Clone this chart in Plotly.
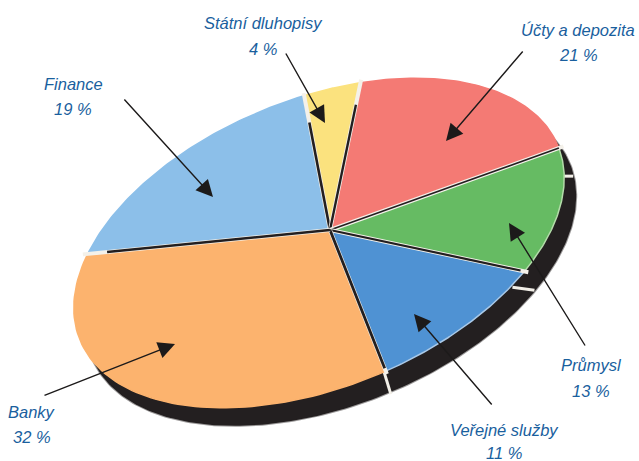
import numpy as np
import plotly.graph_objects as go

# ---- data (clockwise from the top) ----
sectors = ["Státní dluhopisy", "Účty a depozita", "Průmysl", "Veřejné služby", "Banky", "Finance"]
shares = [4, 21, 13, 11, 32, 19]
colors = ["#fbe27e", "#f47a74", "#66bb63", "#4f92d3", "#fcb36e", "#8cbfe9"]
rim_colors = ["#fbe27e", "#f47a74", "#b4dcaa", "#a9c9e8", "#fcb36e", "#8cbfe9"]

# ---- tilted disc projection ----
CX, CY, A, B, ROT = 319, 243, 258, 144, np.radians(-22)
APEX = (330, 230)
T0, WARP, WARP_AT = -85.0, 6.0, 230.0
SHADOW = (12, 18)
W, H = 639, 461


def warp(t):
    return t + WARP * np.cos(np.radians(t - WARP_AT))


def rim(t):
    r = np.radians(warp(np.asarray(t, dtype=float)))
    u, v = A * np.cos(r), B * np.sin(r)
    return CX + u * np.cos(ROT) - v * np.sin(ROT), CY + u * np.sin(ROT) + v * np.cos(ROT)


bounds = T0 + np.concatenate([[0], np.cumsum(shares)]) * 3.6
fig = go.Figure()

# extruded side of the disc
tt = np.linspace(0, 360, 361)
sx, sy = rim(tt)
fig.add_trace(go.Scatter(x=sx + SHADOW[0], y=sy + SHADOW[1], mode="lines", fill="toself",
                         fillcolor="#231f20", line=dict(color="rgba(35,31,32,0.45)", width=2),
                         hoverinfo="skip", showlegend=False))

# white cuts through the side
for b, d0, d1 in [(bounds[3], (-12, 16), (10, 19)), (bounds[4], (-2, 0), (5, 23)),
                  (bounds[2] + 12, (-2, 0), (9, 0))]:
    px, py = rim(b)
    fig.add_trace(go.Scatter(x=[px + d0[0], px + d1[0]], y=[py + d0[1], py + d1[1]], mode="lines",
                             line=dict(color="#f2efe8", width=3), hoverinfo="skip", showlegend=False))

# wedges
for i, (name, c) in enumerate(zip(sectors, colors)):
    ts = np.linspace(bounds[i], bounds[i + 1], 80)
    x, y = rim(ts)
    fig.add_trace(go.Scatter(x=np.r_[APEX[0], x, APEX[0]], y=np.r_[APEX[1], y, APEX[1]],
                             mode="lines", fill="toself", fillcolor=c, name=name,
                             line=dict(color=rim_colors[i], width=1.5), showlegend=False))

# gaps between the wedges: pale outer part, dark inner part
dark_to = [0.80, 0.85, 1.0, 0.98, 0.98, 0.92]
dark_w = [2.6, 2.4, 1.6, 2.2, 2.8, 2.6]
for i in range(6):
    px, py = rim(bounds[i])
    fig.add_trace(go.Scatter(x=[APEX[0], px + (px - APEX[0]) * 0.02], y=[APEX[1], py + (py - APEX[1]) * 0.02],
                             mode="lines", line=dict(color="#f4f1ea", width=4),
                             hoverinfo="skip", showlegend=False))
    f = dark_to[i]
    fig.add_trace(go.Scatter(x=[APEX[0], APEX[0] + (px - APEX[0]) * f], y=[APEX[1], APEX[1] + (py - APEX[1]) * f],
                             mode="lines", line=dict(color="#231f20", width=dark_w[i]),
                             hoverinfo="skip", showlegend=False))

# labels: name, share, centre x, y of both lines, arrow tail and tip
label_cx = [263, 578, 591, 504, 32, 73]
label_y1 = [23, 30, 365, 430, 412, 84]
label_y2 = [49, 55, 391, 453, 437, 109]
tail = [(285, 52), (524, 50), (586, 347), (493, 406), (43, 396), (123, 98)]
tip = [(325, 123), (446, 141), (509, 223), (414, 314), (175, 344), (213, 197)]
BLUE = "#1a5f9e"
FONT = dict(family="Liberation Sans", size=16.5, color=BLUE, style="italic")

ann = []
for i, name in enumerate(sectors):
    for txt, yy in ((name, label_y1[i]), (f"{shares[i]} %", label_y2[i])):
        ann.append(dict(x=label_cx[i], y=yy, text=txt, showarrow=False, font=FONT,
                        xanchor="center", yanchor="middle"))
    ann.append(dict(x=tip[i][0], y=tip[i][1], ax=tail[i][0], ay=tail[i][1], axref="x", ayref="y",
                    text="", showarrow=True, arrowhead=2, arrowsize=2.4, arrowwidth=1.4,
                    arrowcolor="#1c1a1a", standoff=0))

fig.update_layout(width=W, height=H, margin=dict(l=0, r=0, t=0, b=0), autosize=False,
                  paper_bgcolor="white", plot_bgcolor="white", annotations=ann,
                  xaxis=dict(range=[0, W], visible=False, fixedrange=True),
                  yaxis=dict(range=[H, 0], visible=False, fixedrange=True))
fig.write_html("out.html", config=dict(displayModeBar=False),
               post_script="document.body.style.margin='0';document.body.style.overflow='hidden';")
